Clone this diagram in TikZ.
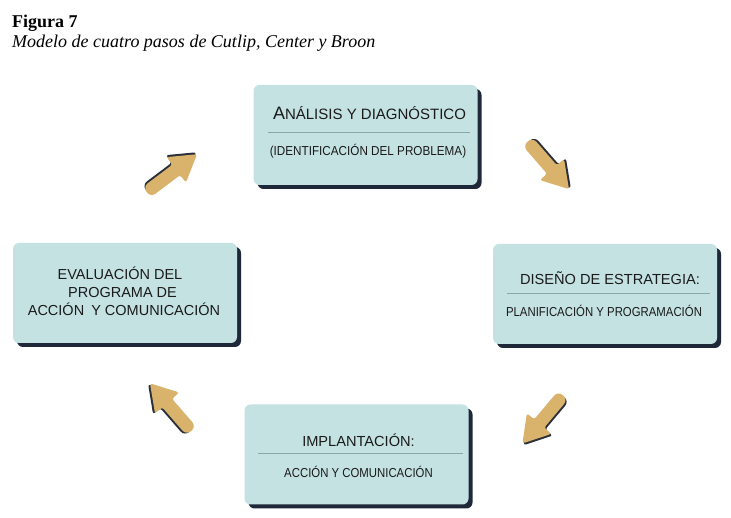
\documentclass[tikz,border=0pt]{standalone}
\usepackage{fontspec}
\setmainfont{Liberation Serif}
\newfontfamily\boxfont{Liberation Sans}
\usetikzlibrary{shadows,calc}
\definecolor{boxfill}{HTML}{C5E2E3}
\definecolor{boxshadow}{HTML}{1E2838}
\definecolor{sepcol}{HTML}{8BA6AB}
\definecolor{arrowfill}{HTML}{D9B36C}
\definecolor{arrowshadow}{HTML}{2B2F3A}
\definecolor{txt}{HTML}{1A1A1A}
\tikzset{
  stagebox/.style={draw=none, fill=boxfill, rounded corners=6pt,
    minimum width=224pt, minimum height=100pt, inner sep=0pt,
    drop shadow={shadow xshift=4pt, shadow yshift=-4pt, fill=boxshadow, opacity=1}},
  titletxt/.style={font=\boxfont\fontsize{14.6}{17}\selectfont, text=txt, anchor=base, inner sep=0pt},
  subtxt/.style={font=\boxfont\fontsize{13}{15}\selectfont, text=txt, anchor=base, inner sep=0pt},
  bodytxt/.style={font=\boxfont\fontsize{14.5}{17}\selectfont, text=txt, anchor=base, inner sep=0pt},
  sepline/.style={draw=sepcol, line width=1pt},
  fatarrow/.pic={
    \fill[arrowshadow, shift={(0.6,2)}, rounded corners=2.5pt] (6,-6.5) -- (6,-16) -- (32,0) -- (6,16) -- (6,6.5) [rounded corners=6pt] -- (-31,6.5) -- (-31,-6.5) [rounded corners=2.5pt] -- cycle;
    \fill[arrowfill, rounded corners=2.5pt] (6,-6.5) -- (6,-16) -- (32,0) -- (6,16) -- (6,6.5) [rounded corners=6pt] -- (-31,6.5) -- (-31,-6.5) [rounded corners=2.5pt] -- cycle;
  }
}
\begin{document}
\begin{tikzpicture}[x=1pt, y=1pt]
\useasboundingbox[fill=white] (0,0) rectangle (731,518);
% heading
\node[anchor=base west, inner sep=0pt, font=\fontsize{18}{20}\selectfont\bfseries] (fig) at (12,490) {Figura 7};
\node[anchor=base west, inner sep=0pt, font=\fontsize{18}{20}\selectfont\itshape] (cap) at (12,470) {Modelo de cuatro pasos de Cutlip, Center y Broon};
% boxes
\node[stagebox] (top) at (365.5,383) {};
\node[stagebox] (right) at (605,224) {};
\node[stagebox] (left) at (125,225) {};
\node[stagebox] (bottom) at (356.5,63.5) {};
% top box
\node[titletxt] (toptitle) at (369.5,398) {\fontsize{18}{20}\selectfont A\fontsize{15}{17}\selectfont NÁLISIS Y DIAGNÓSTICO};
\draw[sepline] ($(top.west)+(15,2)$) -- ($(top.east)+(-8,2)$);
\node[subtxt] (topsub) at (368,362) {\scalebox{0.9}[1]{(IDENTIFICACIÓN DEL PROBLEMA)}};
% right box
\node[titletxt] (righttitle) at (610,233) {DISEÑO DE ESTRATEGIA:};
\draw[sepline] ($(right.west)+(14,0)$) -- ($(right.east)+(-7,0)$);
\node[subtxt] (rightsub) at (604,201.3) {\scalebox{0.875}[1]{PLANIFICACIÓN Y PROGRAMACIÓN}};
% bottom box
\node[titletxt] (bottomtitle) at (358.5,71.3) {IMPLANTACIÓN:};
\draw[sepline] ($(bottom.west)+(14,0.5)$) -- ($(bottom.east)+(-6,0.5)$);
\node[subtxt] (bottomsub) at (358.5,40.7) {\scalebox{0.875}[1]{ACCIÓN Y COMUNICACIÓN}};
% left box
\node[bodytxt] (left1) at (120,238.7) {EVALUACIÓN DEL};
\node[bodytxt] (left2) at (122.5,220.3) {PROGRAMA DE};
\node[bodytxt] (left3) at (124,202) {ACCIÓN\hspace{3pt} Y COMUNICACIÓN};
% arrows
\coordinate (a1) at (171.5,344.5);
\coordinate (a2) at (548,353);
\coordinate (a3) at (543,99);
\coordinate (a4) at (171,110.5);
\pic[rotate=37] at (a1) {fatarrow};
\pic[rotate=-49] at (a2) {fatarrow};
\pic[rotate=-130] at (a3) {fatarrow};
\pic[rotate=131] at (a4) {fatarrow};
\end{tikzpicture}
\end{document}
